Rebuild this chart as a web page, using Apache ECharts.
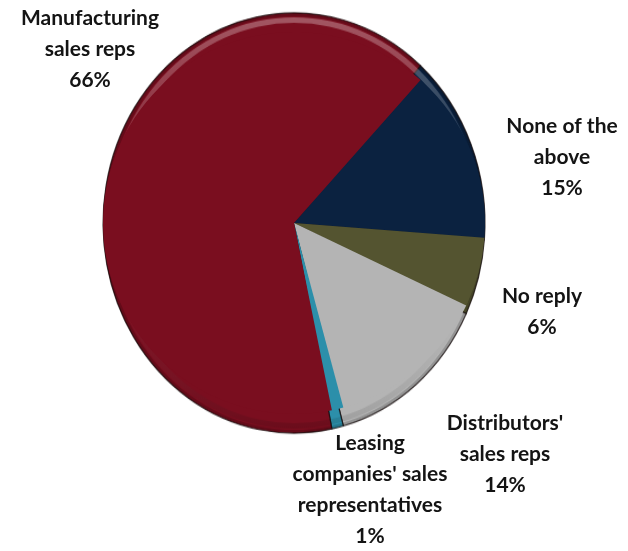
<!DOCTYPE html>
<html>
<head>
<meta charset="utf-8">
<script src="https://cdn.jsdelivr.net/npm/echarts@6/dist/echarts.min.js"></script>
<style>
  html, body { margin: 0; padding: 0; background: #ffffff; }
  #wrap { position: relative; width: 628px; height: 551px; overflow: hidden; }
  #pie, #labels { position: absolute; left: 0; top: 0; width: 628px; height: 551px; }
  /* the pie is drawn slightly taller than wide */
  #pie { transform: scaleY(1.1); transform-origin: 0 223px; }
</style>
</head>
<body>
<div id="wrap">
  <div id="pie"></div>
  <div id="labels"></div>
</div>
<script>
// Survey answers, clockwise from the upper right
const categories = [
  "None of the\nabove",
  "No reply",
  "Distributors'\nsales reps",
  "Leasing\ncompanies' sales\nrepresentatives",
  "Manufacturing\nsales reps"
];
const shares = [15, 6, 14, 1, 66];

const bodyColors = ["#0b2240", "#545430", "#b4b4b4", "#2c8faa", "#7a0e1f"];

// label anchor points (centre of each text block)
const labelPos = [
  [562, 157],
  [542, 312],
  [505, 454],
  [370, 490],
  [90, 49]
];

const center = [294, 223];
const startAngle = 48.5;
const R = 191;

function rows(colors) {
  return categories.map((c, i) => ({
    name: c,
    value: shares[i],
    itemStyle: { color: colors[i] }
  }));
}

const pieChart = echarts.init(document.getElementById('pie'), null, { renderer: 'canvas' });
pieChart.setOption({
  animation: false,
  series: [
    {
      type: 'pie',
      center: center,
      radius: R,
      startAngle: startAngle,
      label: { show: false },
      labelLine: { show: false },
      silent: true,
      itemStyle: { borderColor: 'rgba(20,10,10,0.75)', borderWidth: 1.2 },
      data: rows(bodyColors)
    },
    {
      // soft bevel highlight just inside the rim, lit from above
      type: 'pie',
      center: center,
      radius: [R - 9, R - 4],
      silent: true,
      label: { show: false },
      labelLine: { show: false },
      itemStyle: {
        color: new echarts.graphic.LinearGradient(0, 0, 0, 1, [
          { offset: 0, color: 'rgba(255,255,255,0.30)' },
          { offset: 0.35, color: 'rgba(255,255,255,0.10)' },
          { offset: 0.6, color: 'rgba(255,255,255,0.0)' },
          { offset: 1, color: 'rgba(0,0,0,0.12)' }
        ])
      },
      data: [{ name: 'rim', value: 1 }]
    },
    {
      // darker outer edge
      type: 'pie',
      center: center,
      radius: [R - 3, R],
      silent: true,
      label: { show: false },
      labelLine: { show: false },
      itemStyle: { color: 'rgba(0,0,0,0.18)' },
      data: [{ name: 'edge', value: 1 }]
    }
  ]
});

const labelChart = echarts.init(document.getElementById('labels'), null, { renderer: 'canvas' });
labelChart.setOption({
  animation: false,
  series: [{
    type: 'pie',
    center: center,
    radius: R,
    startAngle: startAngle,
    silent: true,
    itemStyle: { color: 'rgba(0,0,0,0)' },
    labelLine: { show: false },
    label: {
      show: true,
      position: 'outside',
      formatter: p => p.name + '\n' + p.value + '%',
      fontFamily: 'Lato',
      fontWeight: 'bold',
      fontSize: 21,
      lineHeight: 31,
      color: '#141414',
      align: 'center',
      overflow: 'none',
      width: 300
    },
    labelLayout: p => ({
      x: labelPos[p.dataIndex][0],
      y: labelPos[p.dataIndex][1],
      align: 'center',
      verticalAlign: 'middle'
    }),
    data: rows(bodyColors)
  }]
});
</script>
</body>
</html>
